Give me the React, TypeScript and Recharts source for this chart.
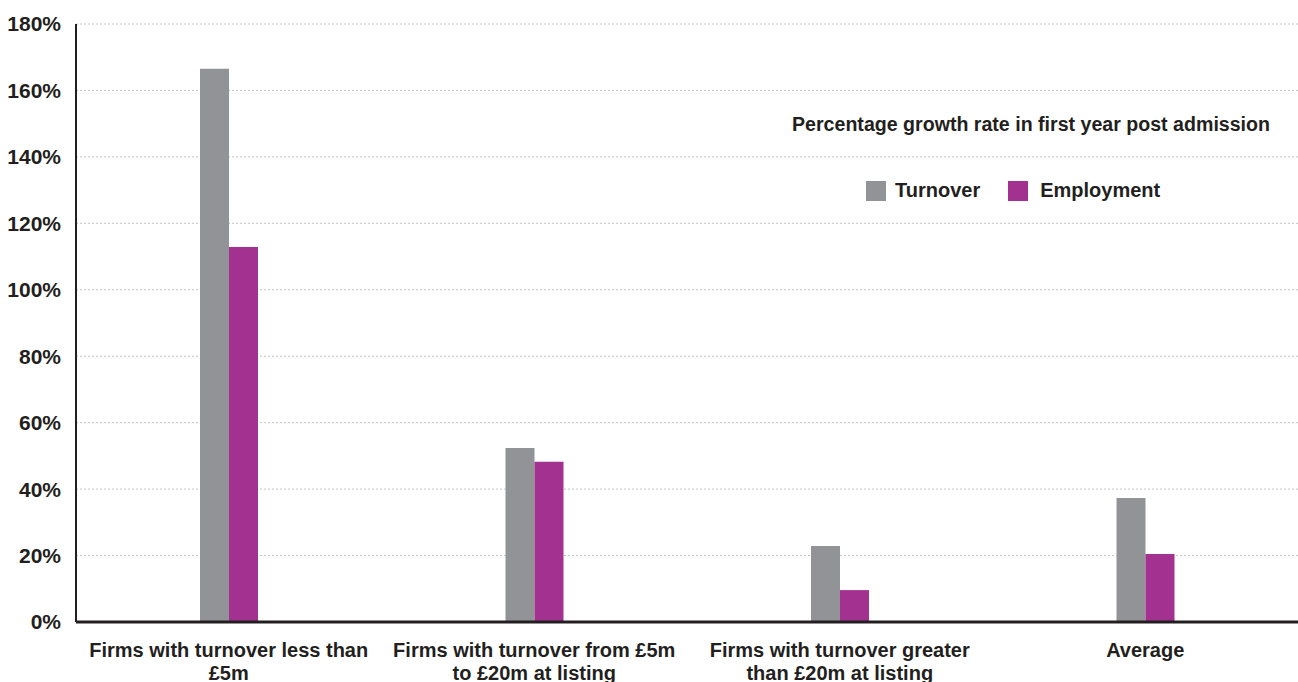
import { BarChart, Bar, XAxis, YAxis, CartesianGrid } from "recharts"

const categories = ["small", "mid", "large", "average"]
const categoryLabels: string[][] = [
  ["Firms with turnover less than", "£5m"],
  ["Firms with turnover from £5m", "to £20m at listing"],
  ["Firms with turnover greater", "than £20m at listing"],
  ["Average"],
]
const turnover = [166.5, 52.4, 22.9, 37.3]
const employment = [112.9, 48.2, 9.6, 20.5]
const yTicks = [0, 20, 40, 60, 80, 100, 120, 140, 160, 180]

const legendTitle = "Percentage growth rate in first year post admission"

const GREY = "#929396"
const PURPLE = "#a33190"
const INK = "#231f20"
const FONT = "'Liberation Sans Narrow', 'Liberation Sans', Arial, sans-serif"

const data = categories.map((name, i) => ({
  name,
  turnover: turnover[i],
  employment: employment[i],
}))

type TickProps = {
  x?: number
  y?: number
  index?: number
}

// two-line category labels, lines kept in categoryLabels
function CategoryTick({ x, y, index }: TickProps) {
  const lines = categoryLabels[index ?? 0] ?? []
  return (
    <text
      x={x}
      y={(y ?? 0) + 27}
      textAnchor="middle"
      fill={INK}
      style={{ fontSize: 20, fontWeight: 700, fontFamily: FONT }}
    >
      {lines.map((line, i) => (
        <tspan key={i} x={x} dy={i === 0 ? 0 : 23}>
          {line}
        </tspan>
      ))}
    </text>
  )
}

function LegendBox() {
  return (
    <div
      style={{
        position: "absolute",
        left: 781,
        top: 113,
        width: 500,
        fontFamily: FONT,
        fontWeight: 700,
        color: INK,
        lineHeight: "23px",
      }}
    >
      <div style={{ fontSize: 19.6, textAlign: "center", marginBottom: 43 }}>{legendTitle}</div>
      <div style={{ display: "flex", alignItems: "center", fontSize: 20, paddingLeft: 85 }}>
        <span style={{ width: 20, height: 20, background: GREY, display: "inline-block", marginRight: 9 }} />
        <span style={{ marginRight: 28 }}>Turnover</span>
        <span style={{ width: 20, height: 20, background: PURPLE, display: "inline-block", marginRight: 12 }} />
        <span>Employment</span>
      </div>
    </div>
  )
}

export default function App() {
  return (
    <div style={{ position: "absolute", left: 0, top: 0, width: 1298, height: 682, background: "#fff" }}>
      <BarChart
        width={1298}
        height={682}
        data={data}
        margin={{ top: 24, right: 0, left: 0, bottom: 0 }}
        barGap={0}
      >
        <CartesianGrid vertical={false} stroke="#c4c4c4" strokeDasharray="2 2" />
        <XAxis
          dataKey="name"
          height={60}
          interval={0}
          tick={<CategoryTick />}
          tickLine={false}
          axisLine={{ stroke: INK, strokeWidth: 3 }}
        />
        <YAxis
          width={76}
          domain={[0, 180]}
          ticks={yTicks}
          tickFormatter={(v: number) => `${v}%`}
          tick={{ fill: INK, fontSize: 21, fontWeight: 700, fontFamily: FONT }}
          tickLine={false}
          tickSize={0}
          tickMargin={15}
          axisLine={{ stroke: INK, strokeWidth: 2 }}
        />
        <Bar dataKey="turnover" name="Turnover" fill={GREY} barSize={29} isAnimationActive={false} />
        <Bar dataKey="employment" name="Employment" fill={PURPLE} barSize={29} isAnimationActive={false} />
      </BarChart>
      <LegendBox />
    </div>
  )
}
